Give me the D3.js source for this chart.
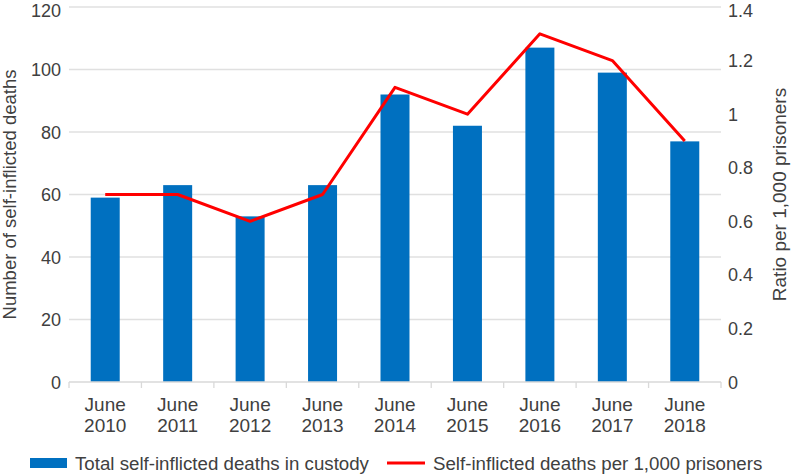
<!DOCTYPE html>
<html lang="en">
<head>
  <meta charset="UTF-8">
  <title>Self-inflicted deaths in custody</title>
  <script src="https://d3js.org/d3.v7.min.js"></script>
  <style>
    body { margin: 0; background: #fff; }
    svg { display: block; font-family: "Liberation Sans", Arial, sans-serif; }
  </style>
</head>
<body>
  <svg id="chart" width="792" height="475"></svg>
  <script>
    // Data
    const years = ["2010", "2011", "2012", "2013", "2014", "2015", "2016", "2017", "2018"];
    const deaths = [59, 63, 53, 63, 92, 82, 107, 99, 77];
    const ratio = [0.7, 0.7, 0.6, 0.7, 1.1, 1.0, 1.3, 1.2, 0.9];
    const leftTicks = [0, 20, 40, 60, 80, 100, 120];
    const rightTicks = [0, 0.2, 0.4, 0.6, 0.8, 1, 1.2, 1.4];

    const svg = d3.select("#chart");
    const margin = {top: 7, right: 71, bottom: 93, left: 69};
    const width = 792 - margin.left - margin.right,
          height = 475 - margin.top - margin.bottom;
    const g = svg.append("g").attr("transform", `translate(${margin.left},${margin.top})`);

    const xc = d3.scaleBand().domain(years).range([0, width]);
    const yL = d3.scaleLinear().domain([0, 120]).range([height, 0]);
    const yR = d3.scaleLinear().domain([0, 1.4]).range([height, 0]);
    const cx = d => xc(d) + xc.bandwidth() / 2;

    // gridlines
    g.selectAll(".grid").data(leftTicks.slice(1)).join("line")
      .attr("x1", 0).attr("x2", width)
      .attr("y1", d => yL(d)).attr("y2", d => yL(d))
      .attr("stroke", "#e0e0e0").attr("stroke-width", 1.3);

    // bars
    g.selectAll(".bar").data(deaths).join("rect")
      .attr("x", (d, i) => cx(years[i]) - 14.5)
      .attr("width", 29)
      .attr("y", d => yL(d))
      .attr("height", d => height - yL(d))
      .attr("fill", "#0070c0");

    // x axis baseline and ticks between categories
    g.append("line").attr("x1", 0).attr("x2", width).attr("y1", height).attr("y2", height)
      .attr("stroke", "#d9d9d9").attr("stroke-width", 1.3);
    g.selectAll(".xtick").data(d3.range(years.length + 1)).join("line")
      .attr("x1", i => i * xc.step()).attr("x2", i => i * xc.step())
      .attr("y1", height).attr("y2", height + 6)
      .attr("stroke", "#d9d9d9").attr("stroke-width", 1.3);

    // x labels
    const xl = g.selectAll(".xl").data(years).join("text")
      .attr("text-anchor", "middle")
      .attr("fill", "#404040").attr("font-size", 19);
    xl.append("tspan").attr("x", cx).attr("y", height + 29).text("June");
    xl.append("tspan").attr("x", cx).attr("y", height + 50).text(d => d);

    // left tick labels (top one kept inside the frame)
    g.selectAll(".yl").data(leftTicks).join("text")
      .attr("x", -8).attr("y", d => Math.max(yL(d) + 6.5, 9.5))
      .attr("text-anchor", "end").attr("fill", "#404040").attr("font-size", 18)
      .text(d => d);

    // right tick labels
    g.selectAll(".yr").data(rightTicks).join("text")
      .attr("x", width + 7).attr("y", d => Math.max(yR(d) + 6.5, 9.5))
      .attr("text-anchor", "start").attr("fill", "#404040").attr("font-size", 18)
      .text(d => d);

    // ratio line
    const line = d3.line()
      .x((d, i) => cx(years[i]))
      .y(d => yR(d));
    g.append("path").datum(ratio)
      .attr("d", line)
      .attr("fill", "none").attr("stroke", "#ff0000").attr("stroke-width", 3)
      .attr("stroke-linejoin", "round");

    // axis titles
    svg.append("text")
      .attr("transform", `translate(15.5,${margin.top + height / 2}) rotate(-90)`)
      .attr("text-anchor", "middle").attr("fill", "#404040").attr("font-size", 18.5)
      .text("Number of self-inflicted deaths");
    svg.append("text")
      .attr("transform", `translate(786,${margin.top + height / 2}) rotate(-90)`)
      .attr("text-anchor", "middle").attr("fill", "#404040").attr("font-size", 19)
      .text("Ratio per 1,000 prisoners");

    // legend
    const lg = svg.append("g");
    lg.append("rect").attr("x", 30).attr("y", 458).attr("width", 37).attr("height", 10).attr("fill", "#0070c0");
    lg.append("text").attr("x", 75).attr("y", 470).attr("fill", "#404040").attr("font-size", 18.7)
      .text("Total self-inflicted deaths in custody");
    lg.append("line").attr("x1", 387).attr("x2", 425).attr("y1", 463).attr("y2", 463)
      .attr("stroke", "#ff0000").attr("stroke-width", 3);
    lg.append("text").attr("x", 433).attr("y", 470).attr("fill", "#404040").attr("font-size", 18.7)
      .text("Self-inflicted deaths per 1,000 prisoners");
  </script>
</body>
</html>
